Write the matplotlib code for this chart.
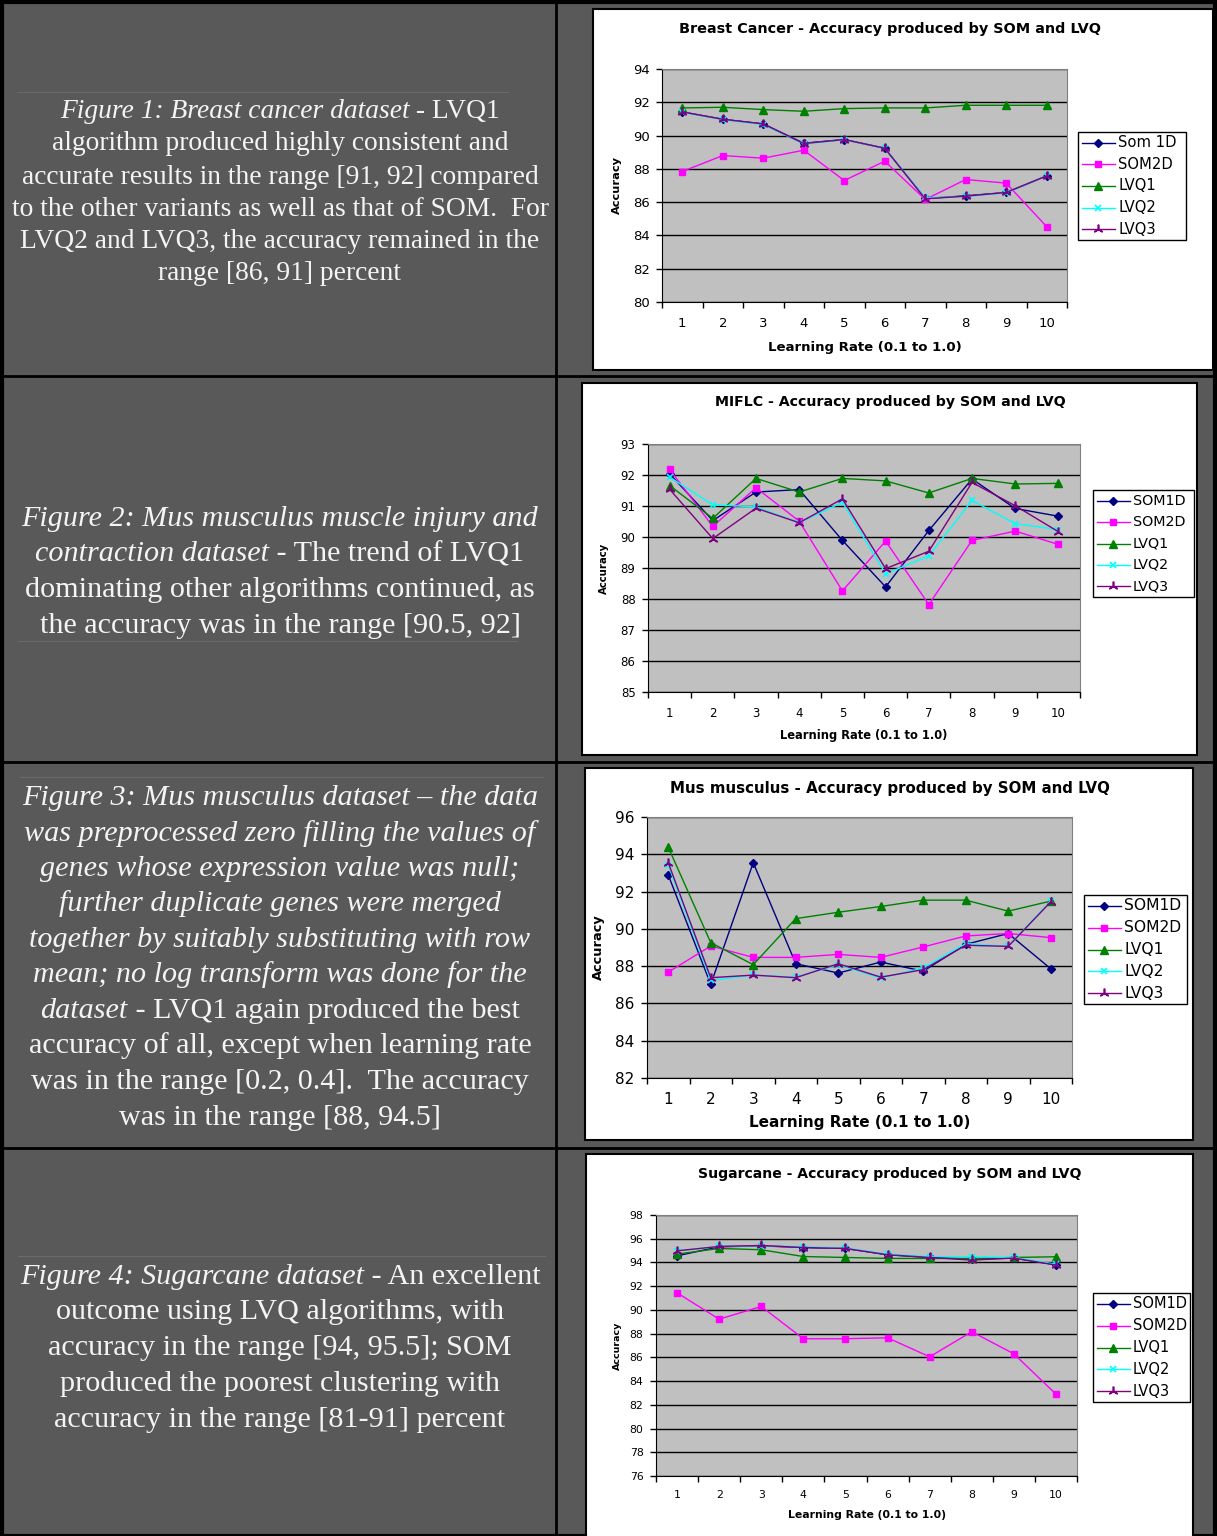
import numpy as np
import matplotlib
matplotlib.use('Agg')
import matplotlib.pyplot as plt
from matplotlib.patches import Rectangle
from matplotlib.lines import Line2D

# learning rate index (0.1 .. 1.0)
rate = [1, 2, 3, 4, 5, 6, 7, 8, 9, 10]
legend_names = ['SOM1D', 'SOM2D', 'LVQ1', 'LVQ2', 'LVQ3']
legend_names_bc = ['Som 1D', 'SOM2D', 'LVQ1', 'LVQ2', 'LVQ3']

# Breast Cancer
bc_som1d = [91.42, 90.98, 90.70, 89.54, 89.76, 89.24, 86.22, 86.38, 86.58, 87.58]
bc_som2d = [87.84, 88.80, 88.64, 89.12, 87.30, 88.46, 86.16, 87.36, 87.14, 84.52]
bc_lvq1 = [91.66, 91.70, 91.56, 91.46, 91.62, 91.66, 91.66, 91.82, 91.82, 91.82]
bc_lvq2 = [91.40, 90.96, 90.66, 89.50, 89.74, 89.24, 86.26, 86.34, 86.56, 87.58]
bc_lvq3 = [91.42, 90.98, 90.70, 89.52, 89.76, 89.24, 86.20, 86.36, 86.58, 87.58]

# MIFLC
mi_som1d = [92.04, 90.53, 91.45, 91.53, 89.89, 88.39, 90.21, 91.87, 90.92, 90.67]
mi_som2d = [92.18, 90.34, 91.59, 90.51, 88.26, 89.87, 87.82, 89.89, 90.19, 89.76]
mi_lvq1 = [91.66, 90.60, 91.89, 91.45, 91.89, 91.81, 91.42, 91.89, 91.71, 91.73]
mi_lvq2 = [91.93, 91.04, 90.97, 90.46, 91.12, 88.81, 89.39, 91.18, 90.43, 90.24]
mi_lvq3 = [91.54, 89.95, 90.93, 90.46, 91.23, 88.98, 89.54, 91.76, 91.01, 90.17]

# Mus musculus
mm_som1d = [92.89, 87.02, 93.55, 88.13, 87.63, 88.22, 87.73, 89.17, 89.75, 87.86]
mm_som2d = [87.68, 89.08, 88.47, 88.47, 88.63, 88.47, 89.03, 89.62, 89.75, 89.53]
mm_lvq1 = [94.38, 89.26, 88.08, 90.55, 90.89, 91.20, 91.54, 91.54, 90.95, 91.49]
mm_lvq2 = [93.43, 87.23, 87.52, 87.41, 88.08, 87.36, 87.90, 89.21, 89.06, 91.50]
mm_lvq3 = [93.55, 87.38, 87.52, 87.38, 88.13, 87.41, 87.81, 89.12, 89.06, 91.45]

# Sugarcane
sc_som1d = [94.56, 95.32, 95.40, 95.26, 95.18, 94.65, 94.42, 94.28, 94.37, 93.80]
sc_som2d = [91.44, 89.22, 90.29, 87.57, 87.57, 87.65, 86.05, 88.16, 86.30, 82.90]
sc_lvq1 = [94.70, 95.18, 95.07, 94.50, 94.42, 94.34, 94.34, 94.34, 94.42, 94.48]
sc_lvq2 = [94.98, 95.35, 95.40, 95.32, 95.21, 94.70, 94.48, 94.48, 94.42, 93.86]
sc_lvq3 = [94.98, 95.35, 95.43, 95.26, 95.18, 94.65, 94.42, 94.20, 94.37, 93.78]

styles = [
    dict(color='#000080', marker='D', ms=4),
    dict(color='#FF00FF', marker='s', ms=5),
    dict(color='#008000', marker='^', ms=5.5),
    dict(color='#00FFFF', marker='x', ms=5, mew=1.2),
    dict(color='#800080', marker=(3, 2, 0), ms=7, mew=1.2),
]

W, H = 1217, 1536
BG = '#595959'
TXT = '#f4f4f4'
SANS = 'DejaVu Sans'
SERIF = 'Liberation Serif'

fig = plt.figure(figsize=(W / 100, H / 100), dpi=100)
fig.patch.set_facecolor(BG)

# pixel-space overlay for the table, boxes and captions
bg = fig.add_axes([0, 0, 1, 1], zorder=0)
bg.set_xlim(0, W)
bg.set_ylim(H, 0)
bg.axis('off')

# table lines
bg.add_patch(Rectangle((2, 2), W - 4, H - 2, fill=False, ec='black', lw=3))
bg.plot([556, 556], [0, H], color='black', lw=2)
for yy in [376, 762, 1148]:
    bg.plot([0, W], [yy, yy], color='black', lw=2)
# faint rules left from the document
for yy, x0, x1 in [(92, 17, 508), (641, 18, 517), (777, 20, 543), (1256, 18, 545)]:
    bg.plot([x0, x1], [yy, yy], color='#6a6a6a', lw=0.8)


def px_axes(x0, y0, x1, y1):
    return fig.add_axes([x0 / W, 1 - y1 / H, (x1 - x0) / W, (y1 - y0) / H], zorder=2)


def chart(series, names, title, box, plot, ylim, step, legend_box,
          title_y, xlabel_y, ylabel_x, fs_title, fs_tick, fs_xlab, fs_ylab, fs_leg, xpad):
    bg.add_patch(Rectangle((box[0], box[1]), box[2] - box[0], box[3] - box[1],
                           fc='white', ec='black', lw=1.5))
    ax = px_axes(*plot)
    ax.set_facecolor('#C0C0C0')
    for vals, st in zip(series, styles):
        ax.plot(rate, vals, lw=1.0, clip_on=False, **st)
    ax.set_xlim(0.5, 10.5)
    ax.set_ylim(*ylim)
    ax.set_yticks(np.arange(ylim[0], ylim[1] + step / 2, step))
    ax.set_xticks(rate)
    ax.set_xticks(np.arange(0.5, 11, 1), minor=True)
    ax.tick_params(axis='x', which='major', length=0, pad=xpad, labelsize=fs_tick)
    ax.tick_params(axis='x', which='minor', length=4, direction='out', width=1)
    ax.tick_params(axis='y', length=4, direction='out', width=1, pad=5, labelsize=fs_tick)
    for lab in ax.get_xticklabels() + ax.get_yticklabels():
        lab.set_fontfamily(SANS)
    ax.yaxis.grid(True, color='black', lw=1)
    ax.set_axisbelow(True)
    for s in ['top', 'right']:
        ax.spines[s].set_color('#808080')
    for s in ['left', 'bottom']:
        ax.spines[s].set_color('black')

    bg.text(890, title_y, title, ha='center', va='center', fontsize=fs_title,
            fontweight='bold', family=SANS)
    cx = (plot[0] + plot[2]) / 2
    cy = (plot[1] + plot[3]) / 2
    bg.text(cx, xlabel_y, 'Learning Rate (0.1 to 1.0)', ha='center', va='center',
            fontsize=fs_xlab, fontweight='bold', family=SANS)
    bg.text(ylabel_x, cy, 'Accuracy', ha='center', va='center', rotation=90,
            fontsize=fs_ylab, fontweight='bold', family=SANS)

    # legend box
    lx0, ly0, lx1, ly1 = legend_box
    bg.add_patch(Rectangle((lx0, ly0), lx1 - lx0, ly1 - ly0, fc='white', ec='black', lw=1))
    rh = (ly1 - ly0) / 5
    for i, (nm, st) in enumerate(zip(names, styles)):
        yy = ly0 + (i + 0.5) * rh
        bg.add_line(Line2D([lx0 + 4, lx0 + 37], [yy, yy], color=st['color'], lw=1.0))
        bg.add_line(Line2D([lx0 + 20], [yy], ls='none', color=st['color'], marker=st['marker'],
                           ms=st['ms'], mew=st.get('mew', 1)))
        bg.text(lx0 + 40, yy, nm, ha='left', va='center', fontsize=fs_leg, family=SANS)


chart([bc_som1d, bc_som2d, bc_lvq1, bc_lvq2, bc_lvq3], legend_names_bc,
      'Breast Cancer - Accuracy produced by SOM and LVQ',
      (593, 9, 1213, 370), (662, 69, 1067, 302), (80, 94), 2, (1078, 132, 1186, 240),
      29, 347, 617, 10.4, 9.5, 9.5, 8.2, 10.6, 11)

chart([mi_som1d, mi_som2d, mi_lvq1, mi_lvq2, mi_lvq3], legend_names,
      'MIFLC - Accuracy produced by SOM and LVQ',
      (582, 383, 1197, 755), (648, 444, 1080, 692), (85, 93), 1, (1093, 490, 1194, 597),
      402, 735, 604, 10.2, 8.5, 8.3, 7.3, 10.3, 11)

chart([mm_som1d, mm_som2d, mm_lvq1, mm_lvq2, mm_lvq3], legend_names,
      'Mus musculus - Accuracy produced by SOM and LVQ',
      (585, 768, 1193, 1140), (647, 817, 1072, 1078), (82, 96), 2, (1084, 895, 1187, 1004),
      788, 1123, 598, 10.8, 11, 11, 9.4, 11.2, 10)

chart([sc_som1d, sc_som2d, sc_lvq1, sc_lvq2, sc_lvq3], legend_names,
      'Sugarcane - Accuracy produced by SOM and LVQ',
      (586, 1154, 1193, 1545), (656, 1215, 1077, 1476), (76, 98), 2, (1093, 1293, 1190, 1402),
      1174, 1515, 617, 10.1, 7.8, 7.8, 6.8, 10.5, 10)

# captions in the left column
renderer = fig.canvas.get_renderer()


def caption_line(y, parts, size, cx=280):
    items = []
    for s, style in parts:
        t = bg.text(0, y, s, ha='left', va='center', fontsize=size, fontstyle=style,
                    family=SERIF, color=TXT)
        items.append((t, t.get_window_extent(renderer).width))
    total = sum(w for _, w in items)
    x = cx - total / 2
    for t, w in items:
        t.set_x(x)
        x += w


I, N = 'italic', 'normal'
row1 = [
    (111, [('Figure 1: Breast cancer dataset', I), (' - LVQ1', N)]),
    (143, [('algorithm produced highly consistent and', N)]),
    (176, [('accurate results in the range [91, 92] compared', N)]),
    (208, [('to the other variants as well as that of SOM.  For', N)]),
    (241, [('LVQ2 and LVQ3, the accuracy remained in the', N)]),
    (273, [('range [86, 91] percent', N)]),
]
row2 = [
    (518, [('Figure 2: Mus musculus muscle injury and', I)]),
    (553, [('contraction dataset', I), (' - The trend of LVQ1', N)]),
    (589, [('dominating other algorithms continued, as', N)]),
    (625, [('the accuracy was in the range [90.5, 92]', N)]),
]
row3 = [
    (797, [('Figure 3: Mus musculus dataset \u2013 the data', I)]),
    (833, [('was preprocessed zero filling the values of', I)]),
    (868, [('genes whose expression value was null;', I)]),
    (903, [('further duplicate genes were merged', I)]),
    (939, [('together by suitably substituting with row', I)]),
    (974, [('mean; no log transform was done for the', I)]),
    (1010, [('dataset', I), (' - LVQ1 again produced the best', N)]),
    (1045, [('accuracy of all, except when learning rate', N)]),
    (1081, [('was in the range [0.2, 0.4].  The accuracy', N)]),
    (1117, [('was in the range [88, 94.5]', N)]),
]
row4 = [
    (1276, [('Figure 4: Sugarcane dataset', I), (' - An excellent', N)]),
    (1311, [('outcome using LVQ algorithms, with', N)]),
    (1347, [('accuracy in the range [94, 95.5]; SOM', N)]),
    (1383, [('produced the poorest clustering with', N)]),
    (1419, [('accuracy in the range [81-91] percent', N)]),
]

for y, parts in row1:
    caption_line(y + 1, parts, 19.8)
for rows in [row2, row3, row4]:
    for y, parts in rows:
        caption_line(y + 1, parts, 21.7)

fig.savefig('out.png', dpi=100, facecolor=BG)
